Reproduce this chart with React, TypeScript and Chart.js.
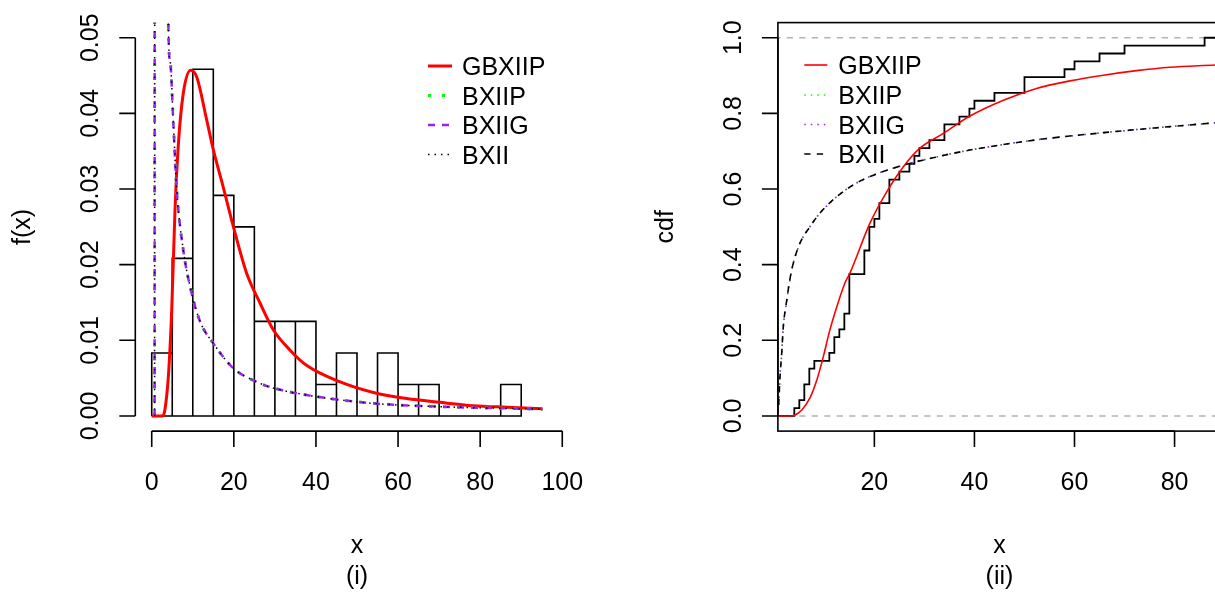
import React, { useEffect, useRef } from "react";
import { Chart, registerables } from "chart.js";
Chart.register(...registerables);

// ---------- data ----------
// distinct observations (ECDF knots) and how many times each occurs
const sampleValues = [4, 5, 6, 7, 8, 11, 12, 13, 14, 15, 18, 19, 20, 21, 23, 25, 27, 28, 29, 31, 34, 37, 39, 40, 44, 50, 58, 60, 65, 70, 86];
const sampleCounts = [1, 1, 2, 2, 1, 1, 2, 1, 2, 5, 3, 3, 1, 2, 3, 1, 1, 1, 1, 1, 2, 1, 1, 1, 1, 2, 1, 1, 1, 1, 1];

// histogram (panel i)
const histBreaks = [0, 5, 10, 15, 20, 25, 30, 35, 40, 45, 50, 55, 60, 65, 70, 75, 80, 85, 90];
const histCounts = [2, 5, 11, 7, 6, 3, 3, 3, 1, 2, 0, 2, 1, 1, 0, 0, 0, 1];

// fitted densities (panel i)
const gbxiipPdfX = [0, 2.7, 3.2, 4.05, 4.87, 5.67, 6.5, 7.7, 9.5, 10.96, 13.4, 15, 17.4, 19.9, 23.1, 26.4, 29.6, 33.7, 37.7, 45.9, 54, 62.1, 70.2, 78.3, 86.5, 95.2];
const gbxiipPdfY = [0, 0, 0.0008, 0.0052, 0.014, 0.0272, 0.036, 0.0427, 0.0457, 0.0448, 0.0391, 0.0352, 0.0303, 0.025, 0.0189, 0.0149, 0.0114, 0.0087, 0.0067, 0.0045, 0.0031, 0.0023, 0.0018, 0.00136, 0.00115, 0.00095];

const bxiiPdfX = [0.7, 0.78, 3.75, 4.05, 4.46, 5.27, 6.09, 7.7, 9.74, 11.76, 15, 19.9, 25.6, 29.6, 40.1, 53.9, 70.2, 92.1, 95.2];
const bxiipPdfY = [0, 0.2, 0.2, 0.052, 0.047, 0.0387, 0.0299, 0.0219, 0.0162, 0.0125, 0.0096, 0.0063, 0.0045, 0.0037, 0.00256, 0.00167, 0.00123, 0.00093, 0.00088];
const bxiigPdfY = [0, 0.2, 0.2, 0.052, 0.047, 0.0387, 0.0299, 0.0219, 0.0162, 0.0125, 0.0096, 0.0063, 0.0045, 0.0037, 0.00256, 0.00167, 0.00123, 0.00093, 0.00088];
const bxiiPdfY = [0, 0.2, 0.2, 0.052, 0.047, 0.0387, 0.0299, 0.0219, 0.0162, 0.0125, 0.0096, 0.0063, 0.0045, 0.0037, 0.00256, 0.00167, 0.00123, 0.00093, 0.00088];

// fitted cdfs (panel ii)
const gbxiipCdfX = [0, 3.0, 4.14, 5.5, 7.1, 8.5, 9.8, 11.1, 12.5, 14.1, 15.1, 19.1, 22.5, 25.8, 29.1, 33.8, 39.1, 45.8, 52.4, 59.1, 65.8, 72.4, 79.1, 88.1, 92];
const gbxiipCdfY = [0, 0, 0.0026, 0.016, 0.047, 0.095, 0.157, 0.227, 0.289, 0.351, 0.377, 0.509, 0.593, 0.659, 0.708, 0.747, 0.793, 0.835, 0.866, 0.886, 0.901, 0.913, 0.922, 0.928, 0.931];

const bxiiCdfX = [0, 0.8, 1.14, 1.5, 1.8, 2.5, 3.1, 3.8, 5.1, 7.1, 9.1, 12.5, 15.8, 19.1, 25.8, 32.5, 39.1, 52.4, 65.8, 79.1, 90];
const bxiipCdfY = [0, 0.02, 0.104, 0.17, 0.236, 0.307, 0.36, 0.404, 0.456, 0.5, 0.536, 0.58, 0.611, 0.633, 0.663, 0.685, 0.703, 0.73, 0.749, 0.765, 0.777];
const bxiigCdfY = [0, 0.02, 0.104, 0.17, 0.236, 0.307, 0.36, 0.404, 0.456, 0.5, 0.536, 0.58, 0.611, 0.633, 0.663, 0.685, 0.703, 0.73, 0.749, 0.765, 0.777];
const bxiiCdfY = [0, 0.02, 0.104, 0.17, 0.236, 0.307, 0.36, 0.404, 0.456, 0.5, 0.536, 0.58, 0.611, 0.633, 0.663, 0.685, 0.703, 0.73, 0.749, 0.765, 0.777];

// axes
const xTicksLeft = [0, 20, 40, 60, 80, 100];
const yTicksLeft = [0, 0.01, 0.02, 0.03, 0.04, 0.05];
const yTickLabelsLeft = ["0.00", "0.01", "0.02", "0.03", "0.04", "0.05"];
const xTicksRight = [20, 40, 60, 80];
const yTicksRight = [0, 0.2, 0.4, 0.6, 0.8, 1.0];
const yTickLabelsRight = ["0.0", "0.2", "0.4", "0.6", "0.8", "1.0"];
const legendLabels = ["GBXIIP", "BXIIP", "BXIIG", "BXII"];

// ---------- styling ----------
const FONT = '25px "Liberation Sans", Arial, Helvetica, sans-serif';
const RED = "#FF0000";
const GREEN = "#00FF00";
const PURPLE = "#A020F0";
const BLACK = "#000000";
const GREY = "#B3B3B3";

type Sty = { color: string; width: number; dash: number[] };
const leftStyles: Sty[] = [
  { color: RED, width: 3, dash: [] },
  { color: GREEN, width: 3, dash: [3, 11] },
  { color: PURPLE, width: 2.5, dash: [7, 7] },
  { color: BLACK, width: 1.5, dash: [1.5, 5] },
];
const rightStyles: Sty[] = [
  { color: RED, width: 1.6, dash: [] },
  { color: GREEN, width: 1.5, dash: [1.5, 5] },
  { color: PURPLE, width: 1.5, dash: [1.5, 5] },
  { color: BLACK, width: 1.6, dash: [6.25, 6.25] },
];

const pts = (xs: number[], ys: number[]) => xs.map((x, i) => ({ x, y: ys[i] }));

function curve(xs: number[], ys: number[], s: Sty, order: number) {
  return {
    data: pts(xs, ys),
    borderColor: s.color,
    borderWidth: s.width,
    borderDash: s.dash,
    borderCapStyle: "butt",
    pointRadius: 0,
    fill: false,
    cubicInterpolationMode: "monotone",
    order,
    clip: 0,
  };
}

type PanelCfg = {
  xTicks: number[];
  xTickLabels: string[];
  yTicks: number[];
  yTickLabels: string[];
  xlab: string;
  sub: string;
  ylab: string;
  box: boolean;
  legend: { x0: number; x1: number; tx: number; rows: number[]; styles: Sty[] };
};

function rAxesPlugin(cfg: PanelCfg) {
  return {
    id: "raxes",
    afterDraw(chart: any) {
      const ctx = chart.ctx as CanvasRenderingContext2D;
      const xs = chart.scales.x;
      const ys = chart.scales.y;
      const a = chart.chartArea;
      ctx.save();
      ctx.strokeStyle = BLACK;
      ctx.fillStyle = BLACK;
      ctx.lineWidth = 1.6;
      ctx.setLineDash([]);
      ctx.font = FONT;
      const tick = 16;

      if (cfg.box) {
        ctx.strokeRect(a.left, a.top, a.right - a.left, a.bottom - a.top);
      }
      // x axis
      const xp = cfg.xTicks.map((v) => xs.getPixelForValue(v));
      ctx.beginPath();
      ctx.moveTo(xp[0], a.bottom);
      ctx.lineTo(xp[xp.length - 1], a.bottom);
      xp.forEach((p) => {
        ctx.moveTo(p, a.bottom);
        ctx.lineTo(p, a.bottom + tick);
      });
      ctx.stroke();
      ctx.textAlign = "center";
      ctx.textBaseline = "alphabetic";
      xp.forEach((p, i) => ctx.fillText(cfg.xTickLabels[i], p, a.bottom + 59));
      const cx = (a.left + a.right) / 2;
      ctx.fillText(cfg.xlab, cx, a.bottom + 122);
      ctx.fillText(cfg.sub, cx, a.bottom + 153);

      // y axis
      const yp = cfg.yTicks.map((v) => ys.getPixelForValue(v));
      ctx.beginPath();
      ctx.moveTo(a.left, yp[0]);
      ctx.lineTo(a.left, yp[yp.length - 1]);
      yp.forEach((p) => {
        ctx.moveTo(a.left, p);
        ctx.lineTo(a.left - tick, p);
      });
      ctx.stroke();
      const rot = (t: string, bx: number, cy: number) => {
        ctx.save();
        ctx.translate(bx, cy);
        ctx.rotate(-Math.PI / 2);
        ctx.textAlign = "center";
        ctx.textBaseline = "alphabetic";
        ctx.fillText(t, 0, 0);
        ctx.restore();
      };
      yp.forEach((p, i) => rot(cfg.yTickLabels[i], a.left - 37, p));
      rot(cfg.ylab, a.left - 105, (a.top + a.bottom) / 2);

      // legend
      const L = cfg.legend;
      legendLabels.forEach((lab, i) => {
        const s = L.styles[i];
        const y = L.rows[i];
        ctx.save();
        ctx.strokeStyle = s.color;
        ctx.lineWidth = s.width;
        ctx.setLineDash(s.dash);
        ctx.lineCap = "butt";
        ctx.beginPath();
        ctx.moveTo(L.x0, y);
        ctx.lineTo(L.x1, y);
        ctx.stroke();
        ctx.restore();
        ctx.textAlign = "left";
        ctx.fillText(lab, L.tx, y + 9);
      });
      ctx.restore();
    },
  };
}

function baseOptions(pad: any, xmin: number, xmax: number, ymin: number, ymax: number) {
  return {
    animation: false,
    responsive: false,
    maintainAspectRatio: false,
    events: [],
    layout: { padding: pad },
    plugins: { legend: { display: false }, tooltip: { enabled: false }, title: { display: false } },
    scales: {
      x: { type: "linear", min: xmin, max: xmax, display: false },
      y: { type: "linear", min: ymin, max: ymax, display: false },
    },
    elements: { point: { radius: 0 } },
  };
}

export default function App() {
  const leftRef = useRef<HTMLCanvasElement>(null);
  const rightRef = useRef<HTMLCanvasElement>(null);

  useEffect(() => {
    const n = sampleCounts.reduce((s, c) => s + c, 0);

    // histogram outline built from breaks and counts
    const histPts: { x: number; y: number }[] = [];
    histCounts.forEach((c, i) => {
      const x0 = histBreaks[i];
      const x1 = histBreaks[i + 1];
      const d = c / (n * (x1 - x0));
      histPts.push({ x: x0, y: 0 }, { x: x0, y: d }, { x: x1, y: d }, { x: x1, y: 0 }, { x: x0, y: 0 }, { x: x1, y: 0 });
    });

    const left = new Chart(leftRef.current!, {
      type: "line",
      data: {
        datasets: [
          {
            data: histPts,
            borderColor: BLACK,
            borderWidth: 1.6,
            pointRadius: 0,
            fill: false,
            tension: 0,
            order: 10,
            clip: 0,
          } as any,
          curve(gbxiipPdfX, gbxiipPdfY, leftStyles[0], 3),
          curve(bxiiPdfX, bxiipPdfY, leftStyles[1], 2),
          curve(bxiiPdfX, bxiigPdfY, leftStyles[2], 1),
          curve(bxiiPdfX, bxiiPdfY, leftStyles[3], 0),
        ] as any,
      },
      options: baseOptions({ left: 135.3, right: 29.3, top: 22.6, bottom: 161.9 }, -4, 104, -0.002, 0.052) as any,
      plugins: [
        rAxesPlugin({
          xTicks: xTicksLeft,
          xTickLabels: xTicksLeft.map(String),
          yTicks: yTicksLeft,
          yTickLabels: yTickLabelsLeft,
          xlab: "x",
          sub: "(i)",
          ylab: "f(x)",
          box: false,
          legend: { x0: 428, x1: 452, tx: 462, rows: [66, 95.5, 125, 154.5], styles: leftStyles },
        }),
      ],
    });

    // ECDF
    const ecdfPts: { x: number; y: number }[] = [{ x: -20, y: 0 }];
    let cum = 0;
    sampleValues.forEach((v, i) => {
      cum += sampleCounts[i];
      ecdfPts.push({ x: v, y: cum / n });
    });
    ecdfPts.push({ x: 120, y: 1 });

    const right = new Chart(rightRef.current!, {
      type: "line",
      data: {
        datasets: [
          {
            data: [{ x: -20, y: 0 }, { x: 120, y: 0 }],
            borderColor: GREY,
            borderWidth: 1.5,
            borderDash: [6.25, 6.25],
            pointRadius: 0,
            fill: false,
            order: 12,
            clip: 0,
          },
          {
            data: [{ x: -20, y: 1 }, { x: 120, y: 1 }],
            borderColor: GREY,
            borderWidth: 1.5,
            borderDash: [6.25, 6.25],
            pointRadius: 0,
            fill: false,
            order: 12,
            clip: 0,
          },
          {
            data: ecdfPts,
            borderColor: BLACK,
            borderWidth: 1.8,
            stepped: "before",
            pointRadius: 0,
            fill: false,
            order: 10,
            clip: 0,
          },
          curve(gbxiipCdfX, gbxiipCdfY, rightStyles[0], 3),
          curve(bxiiCdfX, bxiipCdfY, rightStyles[1], 2),
          curve(bxiiCdfX, bxiigCdfY, rightStyles[2], 1),
          curve(bxiiCdfX, bxiiCdfY, rightStyles[3], 0),
        ] as any,
      },
      options: baseOptions({ left: 169.9, right: 7, top: 22.6, bottom: 161.9 }, 0.72, 89.28, -0.04, 1.04) as any,
      plugins: [
        rAxesPlugin({
          xTicks: xTicksRight,
          xTickLabels: xTicksRight.map(String),
          yTicks: yTicksRight,
          yTickLabels: yTickLabelsRight,
          xlab: "x",
          sub: "(ii)",
          ylab: "cdf",
          box: true,
          legend: { x0: 196.3, x1: 219.3, tx: 230.3, rows: [65, 95, 124.5, 154], styles: rightStyles },
        }),
      ],
    });

    return () => {
      left.destroy();
      right.destroy();
    };
  }, []);

  return (
    <div
      style={{
        position: "fixed",
        left: 0,
        top: 0,
        width: 1215,
        height: 593,
        overflow: "hidden",
        background: "#ffffff",
      }}
    >
      <canvas
        ref={leftRef}
        width={608}
        height={593}
        style={{ position: "absolute", left: 0, top: 0, width: 608, height: 593 }}
      />
      <canvas
        ref={rightRef}
        width={620}
        height={593}
        style={{ position: "absolute", left: 608, top: 0, width: 620, height: 593 }}
      />
    </div>
  );
}
